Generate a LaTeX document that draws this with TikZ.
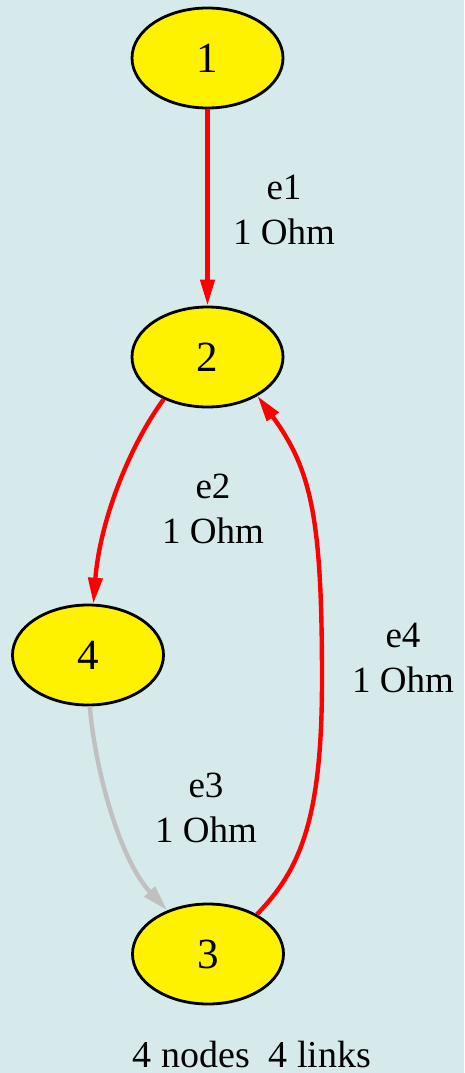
\documentclass[tikz,border=0pt]{standalone}
\usepackage{fontspec}
\setmainfont{Liberation Serif}
\usetikzlibrary{shapes.geometric,arrows.meta}
\definecolor{bg}{RGB}{214,234,236}
\definecolor{edgegray}{RGB}{192,192,192}
\begin{document}
\begin{tikzpicture}[x=1pt,y=-1pt,
  vertex/.style={ellipse,draw=black,line width=2.8pt,fill=yellow,minimum width=151pt,minimum height=100pt,inner sep=0pt,font=\fontsize{43}{50}\selectfont},
  lbl/.style={align=center,font=\fontsize{37}{45}\selectfont,inner sep=0pt},
  link/.style={line width=4.4pt,-{Triangle[length=26pt,width=14pt]}},
  hot/.style={link,draw=red},
  cold/.style={link,draw=edgegray}]
\fill[bg] (0,0) rectangle (464,1073);
\useasboundingbox (0,0) rectangle (464,1073);
\node[vertex] (n1) at (207.5,58) {1};
\node[vertex] (n2) at (207.5,357) {2};
\node[vertex] (n4) at (88,655) {4};
\node[vertex] (n3) at (208,954) {3};
\draw[hot] (n1.south) -- (n2.north);
\draw[hot] (n2.224) .. controls (130,445) and (100,520) .. (n4.84);
\draw[cold] (n4.272) .. controls (95,770) and (120,860) .. (n3.133);
\draw[hot] (n3.39) .. controls (300,870) and (322,820) .. (322,680) .. controls (322,520) and (312,470) .. (n2.-38);
\node[lbl] (l1) at (284,210) {e1\\1 Ohm};
\node[lbl] (l2) at (213,509) {e2\\1 Ohm};
\node[lbl] (l3) at (206,808) {e3\\1 Ohm};
\node[lbl] (l4) at (403,658) {e4\\1 Ohm};
\node[font=\fontsize{38}{44}\selectfont,inner sep=0pt,anchor=base] (cap) at (252,1067) {4 nodes\ \ 4 links};
\end{tikzpicture}
\end{document}
